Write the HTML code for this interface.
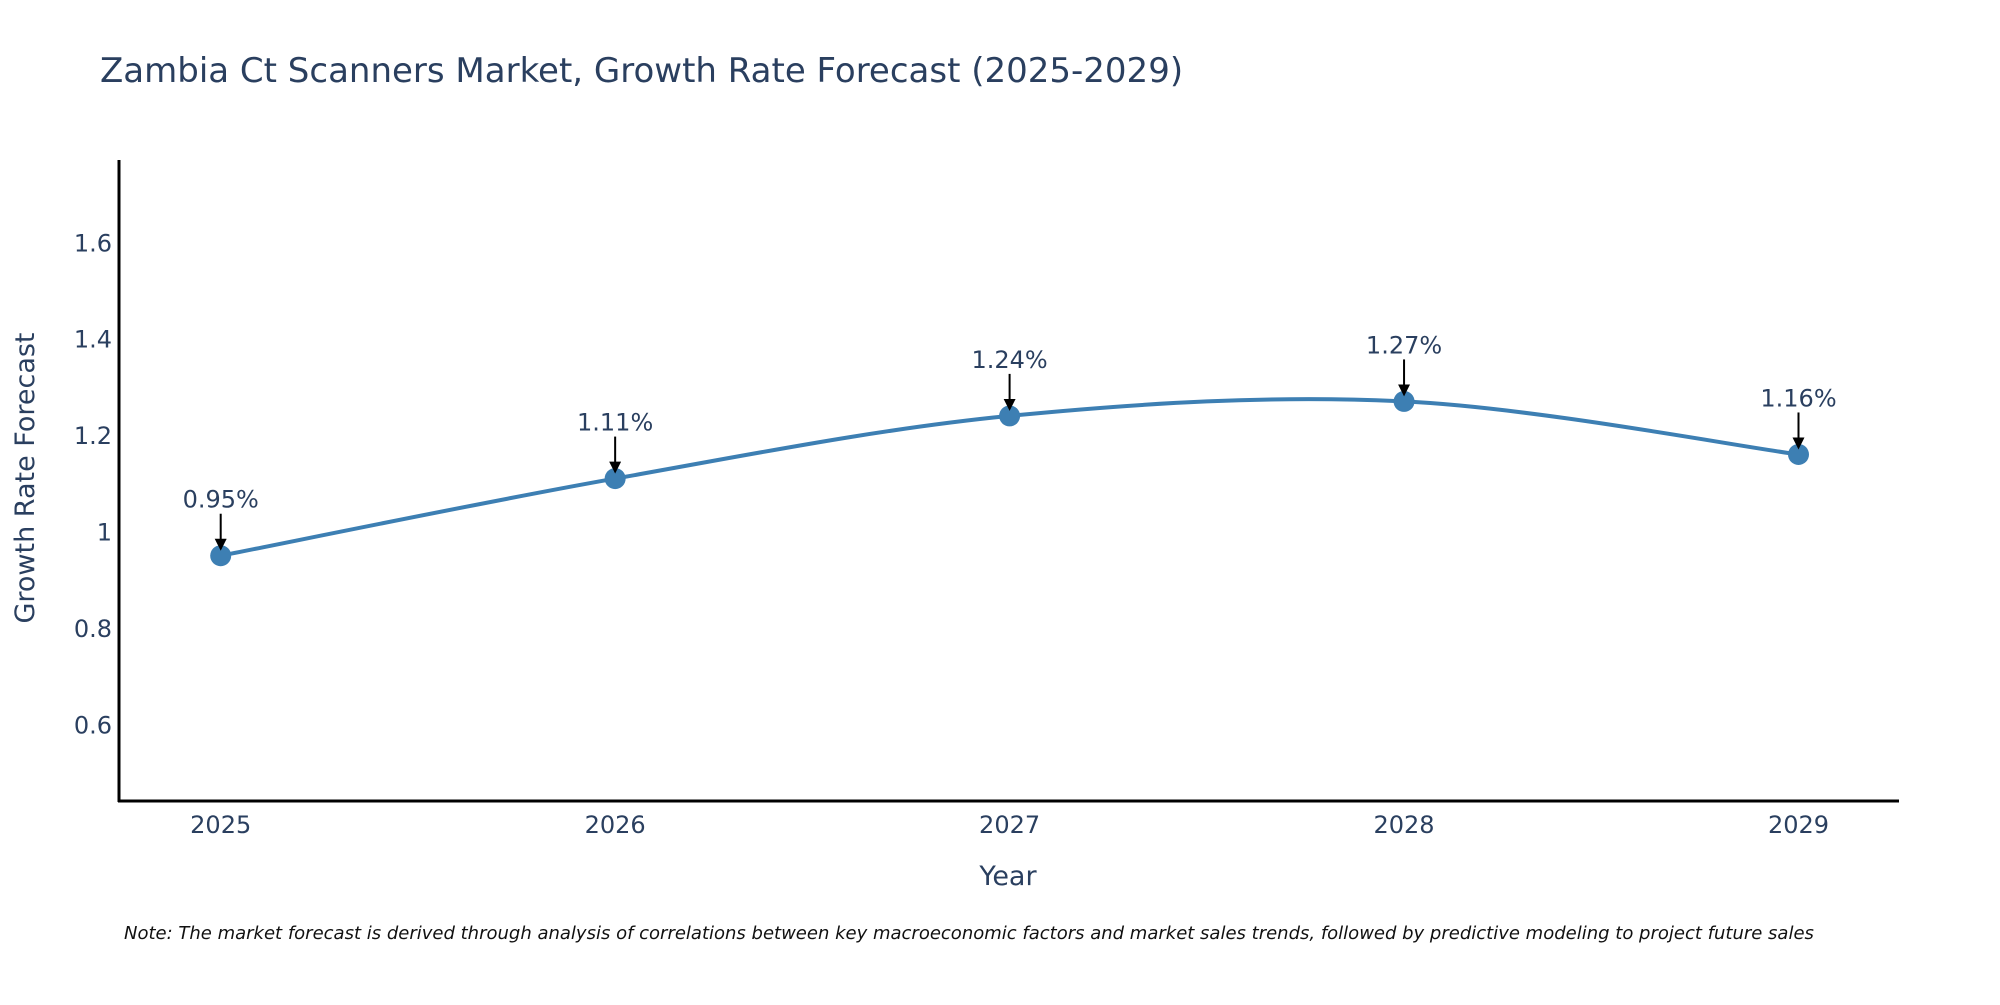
<!DOCTYPE html>
<html><head><meta charset="utf-8"><style>
body{margin:0;background:#fff;overflow:hidden;}
svg text{font-family:"DejaVu Sans","Liberation Sans",sans-serif;fill:#2a3f5f;}
</style></head><body>
<svg width="2000" height="1000" viewBox="0 0 2000 1000">
<text x="100" y="82" font-size="34">Zambia Ct Scanners Market, Growth Rate Forecast (2025-2029)</text>
<g id="yticks"></g><g id="xticks"></g>
<line x1="119" y1="160" x2="119" y2="802" stroke="#000" stroke-width="3"/>
<line x1="118" y1="801" x2="1899" y2="801" stroke="#000" stroke-width="3"/>
<path id="line" fill="none" stroke="#3d7fb3" stroke-width="4"/>
<g id="pts"></g>
<text x="1008" y="885" font-size="27" text-anchor="middle">Year</text>
<text transform="translate(34,478) rotate(-90)" font-size="27" text-anchor="middle">Growth Rate Forecast</text>
<text x="124" y="939" font-size="18" font-style="italic" style="fill:#111">Note: The market forecast is derived through analysis of correlations between key macroeconomic factors and market sales trends, followed by predictive modeling to project future sales</text>
<defs><marker id="ah" markerWidth="6" markerHeight="6" refX="5" refY="3" orient="auto" markerUnits="strokeWidth"><path d="M0,0 L6,3 L0,6 Z" fill="#000"/></marker></defs>
</svg>
<script>
const years=[2025,2026,2027,2028,2029];
const values=[0.95,1.11,1.24,1.27,1.16];
const labels=["0.95%","1.11%","1.24%","1.27%","1.16%"];
const yTicks=[0.6,0.8,1,1.2,1.4,1.6];
const NS="http://www.w3.org/2000/svg";
function xs(v){return 220.7+(v-2025)*(1798.5-220.7)/4;}
function ys(v){return 724.5-(v-0.6)*(724.5-242.3)/1.0;}
const yt=document.getElementById('yticks');
yTicks.forEach(t=>{const e=document.createElementNS(NS,'text');
e.setAttribute('x',112);e.setAttribute('y',ys(t)+9);e.setAttribute('font-size','24');e.setAttribute('text-anchor','end');
e.textContent=String(t);


yt.appendChild(e);});
const xt=document.getElementById('xticks');
years.forEach(t=>{const e=document.createElementNS(NS,'text');
e.setAttribute('x',xs(t));e.setAttribute('y',833);e.setAttribute('font-size','24');e.setAttribute('text-anchor','middle');
e.textContent=String(t);


xt.appendChild(e);});
const P=years.map((y,i)=>[xs(y),ys(values[i])]);
let d='M'+P[0][0]+','+P[0][1];const k=1/6;
for(let i=0;i<P.length-1;i++){const p0=P[Math.max(0,i-1)],p1=P[i],p2=P[i+1],p3=P[Math.min(P.length-1,i+2)];
d+=' C'+(p1[0]+(p2[0]-p0[0])*k)+','+(p1[1]+(p2[1]-p0[1])*k)+' '+(p2[0]-(p3[0]-p1[0])*k)+','+(p2[1]-(p3[1]-p1[1])*k)+' '+p2[0]+','+p2[1];}
document.getElementById('line').setAttribute('d',d);
const g=document.getElementById('pts');
P.forEach((p,i)=>{const c=document.createElementNS(NS,'circle');
c.setAttribute('cx',p[0]);c.setAttribute('cy',p[1]);c.setAttribute('r',10.5);c.setAttribute('fill','#3d7fb3');


g.appendChild(c);
const a=document.createElementNS(NS,'line');
a.setAttribute('x1',p[0]);a.setAttribute('y1',p[1]-42);a.setAttribute('x2',p[0]);a.setAttribute('y2',p[1]-7);
a.setAttribute('stroke','#000');a.setAttribute('stroke-width','2');a.setAttribute('marker-end','url(#ah)');


g.appendChild(a);
const t=document.createElementNS(NS,'text');
t.setAttribute('x',p[0]);t.setAttribute('y',p[1]-48);t.setAttribute('font-size','24');t.setAttribute('text-anchor','middle');
t.textContent=labels[i];


g.appendChild(t);});
</script>
</body></html>
